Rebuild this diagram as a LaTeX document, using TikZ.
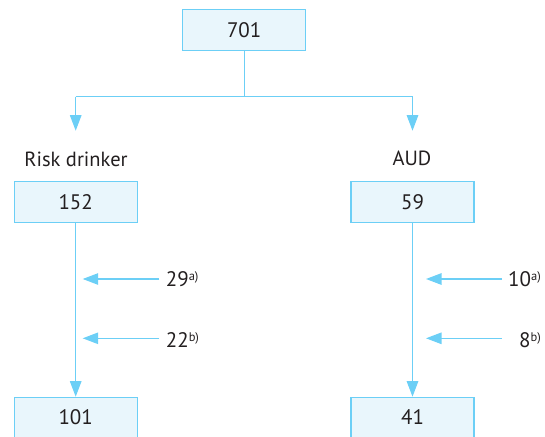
\documentclass[tikz,border=0pt]{standalone}
\usepackage{fontspec}
\setmainfont{PT Sans}
\usetikzlibrary{arrows.meta}
\definecolor{lineblue}{HTML}{6CCFF6}
\definecolor{boxfill}{HTML}{E9F6FC}
\definecolor{txt}{HTML}{231F20}
\tikzset{
  nbox/.style={draw=lineblue, line width=1.1pt, fill=boxfill, minimum width=123pt, minimum height=40.5pt, inner sep=0pt, font=\fontsize{21}{23}\selectfont, text=txt},
  lbl/.style={inner sep=0pt, font=\fontsize{21}{23}\selectfont, text=txt},
  conn/.style={draw=lineblue, line width=1.1pt, -{Triangle[width=11.5pt,length=15.5pt]}},
  seg/.style={draw=lineblue, line width=1.1pt}
}
\newcommand{\sups}[1]{\raisebox{6pt}{\fontsize{12.5}{13}\selectfont #1}}
\begin{document}
\begin{tikzpicture}[x=1pt,y=-1pt]
\useasboundingbox (0,0) rectangle (545,436);
\node[nbox] (top) at (244.2,30) {701};
\node[nbox] (rd) at (75.7,202) {152};
\node[nbox] (aud) at (412.5,202) {59};
\node[nbox, anchor=north] (rdend) at (75.7,396.7) {101};
\node[nbox, anchor=north] (audend) at (412.5,396.7) {41};
\node[lbl, font=\fontsize{20.5}{23}\selectfont, anchor=base] (rdl) at (76,166) {Risk drinker};
\node[lbl, font=\fontsize{20.5}{23}\selectfont, anchor=base] (audl) at (412,165) {AUD};
\coordinate (split) at (244.2,96.7);
\coordinate (splitL) at (75.7,96.7);
\coordinate (splitR) at (412.5,96.7);
\coordinate (tipL) at (75.7,130.7);
\coordinate (tipR) at (412.5,130.7);
\draw[seg] (top.south) -- (split);
\draw[seg] (splitL) -- (splitR);
\draw[conn] (splitL) -- (tipL);
\draw[conn] (splitR) -- (tipR);
\draw[conn] (rd.south) -- (rdend.north);
\draw[conn] (aud.south) -- (audend.north);
% side labels
\node[lbl, anchor=base west] (a1) at (165.7,286.7) {29\sups{a)}};
\node[lbl, anchor=base west] (a2) at (165.7,347.3) {22\sups{b)}};
\node[lbl, anchor=base east] (b1) at (541,286.7) {10\sups{a)}};
\node[lbl, anchor=base east] (b2) at (541,347.3) {8\sups{b)}};
\coordinate (a1s) at (159.3,279);
\coordinate (a1t) at (82.7,279);
\coordinate (a2s) at (159.3,338.3);
\coordinate (a2t) at (82.7,338.3);
\coordinate (b1s) at (501.7,279);
\coordinate (b1t) at (426,279);
\coordinate (b2s) at (501.7,338.3);
\coordinate (b2t) at (426,338.3);
\draw[conn] (a1s) -- (a1t);
\draw[conn] (a2s) -- (a2t);
\draw[conn] (b1s) -- (b1t);
\draw[conn] (b2s) -- (b2t);
\end{tikzpicture}
\end{document}
